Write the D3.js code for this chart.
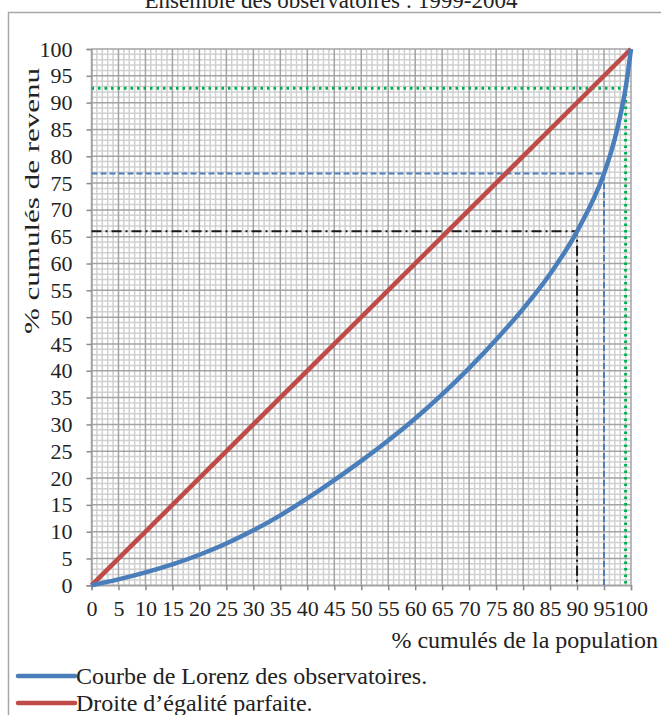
<!DOCTYPE html>
<html>
<head>
<meta charset="utf-8">
<script src="https://cdn.jsdelivr.net/npm/d3@7"></script>
<style>
  body { margin: 0; background: #fff; }
  svg text { font-family: "Liberation Serif", "Times New Roman", serif; fill: #222; }
</style>
</head>
<body>
<svg id="chart" width="661" height="715"></svg>
<script>
// data
var popPct    = [0, 5, 10, 15, 20, 25, 30, 35, 40, 45, 50, 55, 60, 65, 70, 75, 80, 85, 90, 95, 96, 97, 98, 99, 100];
var lorenzPct = [0, 1.1, 2.4, 3.9, 5.7, 7.8, 10.25, 13.05, 16.2, 19.6, 23.2, 27.0, 31.1, 35.6, 40.5, 45.8, 51.55, 58.05, 66.0, 76.8, 79.8, 83.3, 87.5, 92.7, 100];
var equalX = [0, 100];
var equalY = [0, 100];
var refX = [90, 95, 99];
var refY = [66, 76.8, 92.7];
var refColor = ["#1a1a1a", "#4a7ebb", "#00b050"];
var refDash = ["10,4,2,4", "6,3", "2.5,4"];
var xTicks = [0, 5, 10, 15, 20, 25, 30, 35, 40, 45, 50, 55, 60, 65, 70, 75, 80, 85, 90, 95, 100];
var yTicks = [0, 5, 10, 15, 20, 25, 30, 35, 40, 45, 50, 55, 60, 65, 70, 75, 80, 85, 90, 95, 100];
var legendLabels = ["Courbe de Lorenz des observatoires.", "Droite d\u2019\u00e9galit\u00e9 parfaite."];
var legendColors = ["#4a7ebb", "#be4b48"];

var svg = d3.select("#chart"),
    margin = {top: 49, left: 91.5},
    width = 539.5,
    height = 536.3,
    g = svg.append("g").attr("transform", "translate(" + margin.left + "," + margin.top + ")");

// outer frame (right and bottom edges fall outside the picture)
svg.append("rect")
    .attr("x", 8.5).attr("y", 12.5)
    .attr("width", 660).attr("height", 720)
    .attr("fill", "none").attr("stroke", "#a6a6a6").attr("stroke-width", 1.5);

// title (cut at top in the original)
svg.append("text")
    .attr("x", 331).attr("y", 8)
    .attr("text-anchor", "middle")
    .attr("font-size", "23px")
    .text("Ensemble des observatoires : 1999-2004");

var x = d3.scaleLinear().domain([0, 100]).range([0, width]);
var y = d3.scaleLinear().domain([0, 100]).range([height, 0]);

// minor grid
var minor = d3.range(0, 101, 1).filter(function(d) { return d % 5 != 0; });
g.append("g").selectAll("line").data(minor).enter().append("line")
    .attr("x1", function(d) { return x(d); }).attr("x2", function(d) { return x(d); })
    .attr("y1", 0).attr("y2", height)
    .attr("stroke", "#d0d0d0").attr("stroke-width", 1.5);
g.append("g").selectAll("line").data(minor).enter().append("line")
    .attr("y1", function(d) { return y(d); }).attr("y2", function(d) { return y(d); })
    .attr("x1", 0).attr("x2", width)
    .attr("stroke", "#d0d0d0").attr("stroke-width", 1.5);

// major grid
g.append("g").selectAll("line").data(xTicks).enter().append("line")
    .attr("x1", function(d) { return x(d); }).attr("x2", function(d) { return x(d); })
    .attr("y1", 0).attr("y2", height)
    .attr("stroke", "#a3a3a3").attr("stroke-width", 1.5);
g.append("g").selectAll("line").data(yTicks).enter().append("line")
    .attr("y1", function(d) { return y(d); }).attr("y2", function(d) { return y(d); })
    .attr("x1", 0).attr("x2", width)
    .attr("stroke", "#a3a3a3").attr("stroke-width", 1.5);

// axes
var xAxis = g.append("g")
    .attr("transform", "translate(0," + height + ")")
    .call(d3.axisBottom(x).tickValues(xTicks).tickSize(5).tickPadding(10));
var yAxis = g.append("g")
    .call(d3.axisLeft(y).tickValues(yTicks).tickSize(5).tickPadding(14));
[xAxis, yAxis].forEach(function(a) {
    a.select(".domain").attr("stroke", "#a3a3a3").attr("stroke-width", 1.5);
    a.selectAll(".tick line").attr("stroke", "#8c8c8c").attr("stroke-width", 1.5);
    a.selectAll(".tick text")
        .attr("font-size", "22px").attr("fill", "#222");
});

// reference lines
refX.forEach(function(rx, i) {
    g.append("path")
        .attr("d", "M" + x(0) + "," + y(refY[i]) + "H" + x(rx) + "V" + y(0))
        .attr("fill", "none")
        .attr("stroke", refColor[i])
        .attr("stroke-width", i == 2 ? 3 : 2)
        .attr("stroke-dasharray", refDash[i]);
});

// equality line
var eqData = equalX.map(function(d, i) { return [d, equalY[i]]; });
g.append("path").datum(eqData)
    .attr("d", d3.line().x(function(d) { return x(d[0]); }).y(function(d) { return y(d[1]); }))
    .attr("fill", "none").attr("stroke", "#be4b48").attr("stroke-width", 4.5);

// Lorenz curve
var lzData = popPct.map(function(d, i) { return [d, lorenzPct[i]]; });
g.append("path").datum(lzData)
    .attr("d", d3.line().curve(d3.curveMonotoneX)
        .x(function(d) { return x(d[0]); }).y(function(d) { return y(d[1]); }))
    .attr("fill", "none").attr("stroke", "#4a7ebb").attr("stroke-width", 4.5)
    .attr("stroke-linejoin", "round");

// axis titles
svg.append("text")
    .attr("transform", "translate(39,201) rotate(-90)")
    .attr("text-anchor", "middle")
    .attr("font-size", "22px")
    .attr("textLength", 266)
    .attr("lengthAdjust", "spacingAndGlyphs")
    .text("% cumulés de revenu");
svg.append("text")
    .attr("x", 658).attr("y", 648)
    .attr("text-anchor", "end")
    .attr("font-size", "24px")
    .text("% cumulés de la population");

// legend
var legend = svg.append("g").selectAll("g")
    .data(legendLabels)
    .enter().append("g")
    .attr("transform", function(d, i) { return "translate(18," + (676 + i * 27) + ")"; });
legend.append("line")
    .attr("x1", 0).attr("x2", 57)
    .attr("stroke", function(d, i) { return legendColors[i]; })
    .attr("stroke-width", 4.5).attr("stroke-linecap", "round");
legend.append("text")
    .attr("x", 58).attr("dy", "0.33em")
    .attr("font-size", "24px")
    .text(function(d) { return d; });
</script>
</body>
</html>
